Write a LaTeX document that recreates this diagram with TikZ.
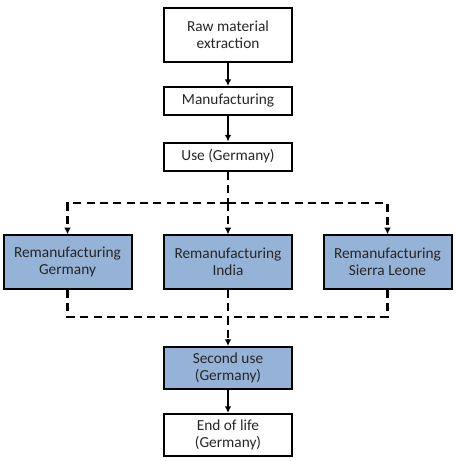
\documentclass[tikz,border=0pt]{standalone}
\usepackage{fontspec}
\setmainfont{Carlito}
\usepackage{tikz}
\usetikzlibrary{positioning,arrows.meta}
\definecolor{remblue}{HTML}{95B3D7}

\begin{document}
\begin{tikzpicture}[
    x=0.75pt, y=-0.75pt,
    box/.style={rectangle, draw, line width=1.5pt, minimum width=96pt, minimum height=40pt, inner sep=0pt, align=center, text=black!85, font=\fontsize{11.5}{13}\selectfont},
    flatbox/.style={box, minimum height=21pt},
    rembox/.style={box, fill=remblue},
    sline/.style={line width=1.5pt, -{Latex[length=5pt,width=5pt]}},
    dline/.style={line width=1.8pt, dash pattern=on 6pt off 4pt},
]
\useasboundingbox (0,0) rectangle (455,461);

% Column - top boxes
\node[box] (raw) at (228,35) {Raw material\\extraction};
\node[flatbox] (manu) at (228,101) {Manufacturing};
\node[flatbox] (use) at (228,156.5) {Use (Germany)};

% Row - remanufacturing boxes
\node[rembox] (remde) at (67.5,262) {Remanufacturing\\Germany};
\node[rembox] (remin) at (228,262) {Remanufacturing\\India};
\node[rembox] (remsl) at (387.5,262) {Remanufacturing\\Sierra Leone};

% Column - bottom boxes
\node[rembox, minimum height=31.5pt] (second) at (228,368) {Second use\\(Germany)};
\node[box, minimum height=31.5pt] (eol) at (228,435) {End of life\\(Germany)};

\coordinate (split) at (228,203);
\coordinate (merge) at (228,317);

\draw[sline] (raw) -- (manu);
\draw[sline] (manu) -- (use);

% dashed branches to the remanufacturing sites
\draw[dline] (use) -- (split);
\draw[dline] (split) -| ([yshift=5pt]remde.north);
\draw[dline] (split) -| ([yshift=5pt]remsl.north);
\draw[dline] (split) -- ([yshift=5pt]remin.north);
\foreach \r in {remde, remin, remsl}
    \draw[sline] ([yshift=5pt]\r.north) -- (\r.north);

% dashed merge back to second use
\foreach \r in {remde, remin, remsl}
    \draw[dline] (\r.south) |- (merge);
\draw[dline] (merge) -- ([yshift=5pt]second.north);
\draw[sline] ([yshift=5pt]second.north) -- (second.north);

\draw[sline] (second) -- (eol);

\end{tikzpicture}
\end{document}
